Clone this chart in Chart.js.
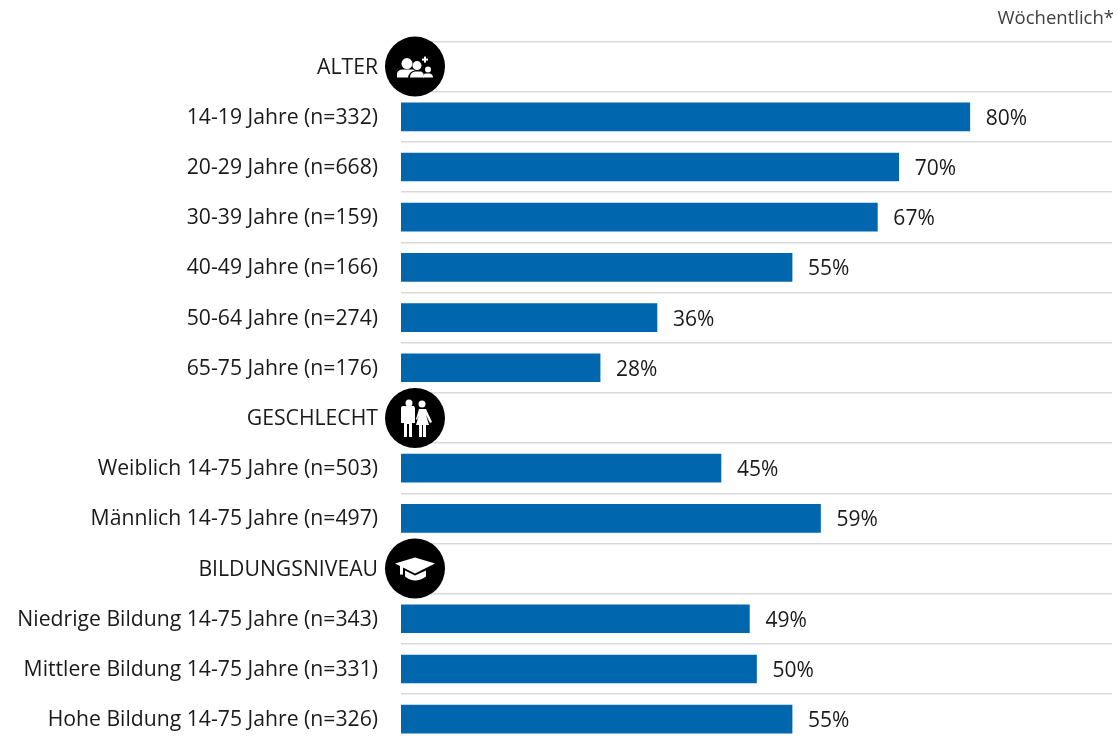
<!DOCTYPE html>
<html lang="de">
<head>
<meta charset="utf-8">
<title>Wöchentlich</title>
<script src="https://cdn.jsdelivr.net/npm/chart.js@4"></script>
<style>
html,body{margin:0;padding:0;background:#fff;overflow:hidden;height:740px;}
canvas{display:block;}
</style>
</head>
<body>
<canvas id="miGrafico" width="1117" height="780"></canvas>
<script>
const etiquetas=[
  'ALTER',
  '14-19 Jahre (n=332)','20-29 Jahre (n=668)','30-39 Jahre (n=159)',
  '40-49 Jahre (n=166)','50-64 Jahre (n=274)','65-75 Jahre (n=176)',
  'GESCHLECHT',
  'Weiblich 14-75 Jahre (n=503)','Männlich 14-75 Jahre (n=497)',
  'BILDUNGSNIVEAU',
  'Niedrige Bildung 14-75 Jahre (n=343)','Mittlere Bildung 14-75 Jahre (n=331)','Hohe Bildung 14-75 Jahre (n=326)'
];
const datos=[null,80,70,67,55,36,28,null,45,59,null,49,50,55];
const spalte='Wöchentlich*';
const FUENTE='"Open Sans"';

// white pictograms on the black discs of the group rows
function iconoPersonas(c){
  c.beginPath();c.arc(-8,-3,5.5,0,Math.PI*2);c.fill();
  c.beginPath();c.arc(2,-1,4.5,0,Math.PI*2);c.fill();
  c.beginPath();c.arc(13,3,3,0,Math.PI*2);c.fill();
  c.beginPath();c.moveTo(-18,11);c.lineTo(-18,7);c.quadraticCurveTo(-17,3,-12,3);c.lineTo(-3,3);c.quadraticCurveTo(-1,3,0,4);c.quadraticCurveTo(-6,5,-7,11);c.closePath();c.fill();
  c.beginPath();c.moveTo(-5,11);c.quadraticCurveTo(-5,6,0,5);c.lineTo(6,5);c.quadraticCurveTo(9,6,9,11);c.closePath();c.fill();
  c.beginPath();c.moveTo(8,11);c.quadraticCurveTo(8,7,11,7);c.lineTo(15,7);c.quadraticCurveTo(18,8,18,11);c.closePath();c.fill();
  c.fillRect(7,-8,6,2);c.fillRect(9,-10,2,6);
}
function iconoGenero(c){
  // Mann
  c.beginPath();c.arc(-6,-15,3.5,0,Math.PI*2);c.fill();
  c.beginPath();c.moveTo(-14,-10);c.quadraticCurveTo(-14,-12,-12,-12);c.lineTo(-1,-12);c.lineTo(0,-10);c.lineTo(0,5);c.lineTo(-3,5);c.lineTo(-3,19);c.lineTo(-6,19);c.lineTo(-6,6);c.lineTo(-8,6);c.lineTo(-8,19);c.lineTo(-11,19);c.lineTo(-11,5);c.lineTo(-14,5);c.closePath();c.fill();
  // Frau
  c.beginPath();c.arc(7,-14,3.5,0,Math.PI*2);c.fill();
  c.beginPath();c.moveTo(4,-9);c.lineTo(11,-9);c.lineTo(17,4);c.lineTo(15,5);c.lineTo(11,-3);c.lineTo(14,7);c.lineTo(11,7);c.lineTo(11,19);c.lineTo(8,19);c.lineTo(8,7);c.lineTo(7,7);c.lineTo(7,19);c.lineTo(4,19);c.lineTo(4,7);c.lineTo(1,7);c.lineTo(4,-3);c.lineTo(2,2);c.lineTo(1,1);c.closePath();c.fill();
}
function iconoBirrete(c){
  c.beginPath();c.moveTo(-20,-5);c.lineTo(0,-11);c.lineTo(20,-5);c.lineTo(0,5);c.closePath();c.fill();
  c.beginPath();c.moveTo(-10,2);c.lineTo(0,7);c.lineTo(11,2);c.lineTo(11,8);c.quadraticCurveTo(0,16,-10,8);c.closePath();c.fill();
  c.fillRect(-15,-3,3,9);
}
const iconos={'ALTER':iconoPersonas,'GESCHLECHT':iconoGenero,'BILDUNGSNIVEAU':iconoBirrete};

const extras={
  id:'extras',
  afterDatasetsDraw(chart){
    const c=chart.ctx, meta=chart.getDatasetMeta(0), esc=chart.scales.y, area=chart.chartArea;
    c.save();
    // percent labels beside the bars
    c.fillStyle='#1a1a1a';
    c.font='21px '+FUENTE;
    c.textAlign='left';c.textBaseline='middle';
    datos.forEach((v,i)=>{
      if(v===null)return;
      const b=meta.data[i];
      c.fillText(v+'%',b.x+16,b.y+2);
    });
    // column heading
    c.fillStyle='#404040';
    c.font='18.5px '+FUENTE;
    c.textAlign='right';
    c.fillText(spalte,1114,19);
    // group discs
    etiquetas.forEach((e,i)=>{
      if(!iconos[e])return;
      const y=esc.getPixelForValue(i), x=area.left+14;
      c.save();
      c.fillStyle='#000';
      c.beginPath();c.arc(x,y,30,0,Math.PI*2);c.fill();
      c.translate(x,y);
      c.fillStyle='#fff';
      iconos[e](c);
      c.restore();
    });
    c.restore();
  }
};

const ctx=document.getElementById('miGrafico').getContext('2d');
const miGrafico=new Chart(ctx,{
  type:'bar',
  data:{
    labels:etiquetas,
    datasets:[{
      data:datos,
      backgroundColor:'#0066AE',
      barThickness:28
    }]
  },
  plugins:[extras],
  options:{
    indexAxis:'y',
    responsive:false,
    animation:false,
    layout:{padding:{top:41.5,right:5,bottom:16.5,left:0}},
    plugins:{legend:{display:false},tooltip:{enabled:false}},
    scales:{
      x:{
        display:false,
        min:0,
        max:100
      },
      y:{
        afterFit(scale){scale.width=401;},
        border:{display:false},
        grid:{color:'#d9d9d9',lineWidth:1.5,drawTicks:false,offset:true},
        ticks:{
          color:'#1a1a1a',
          padding:23,
          labelOffset:1,
          autoSkip:false,
          font:{family:FUENTE,size:21.2}
        }
      }
    }
  }
});
</script>
</body>
</html>
